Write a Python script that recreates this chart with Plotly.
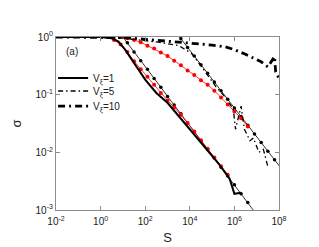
import numpy as np
import plotly.graph_objects as go

# ---- data (log10 values) ----
# V_xi = 1 (thick solid)
v1_logS = [-2.0, -1.0, 0.0, 0.5, 0.8, 1.1, 1.4, 1.7, 2.0, 2.5, 3.0, 3.5, 4.0, 4.5, 5.0, 5.3, 5.62, 5.79, 6.0, 6.3]
v1_logsig = [0.0, 0.0, 0.0, -0.02, -0.08, -0.22, -0.40, -0.58, -0.74, -0.97, -1.14, -1.37, -1.60, -1.83, -2.07, -2.20, -2.37, -2.46, -2.72, -2.70]

# V_xi = 5 (dash-dot)
v5_logS = [-2.0, 0.0, 1.0, 2.0, 2.6, 3.5, 4.07, 4.5, 5.17, 5.6, 5.95, 6.05, 6.3, 6.45, 6.7, 6.85, 7.1, 7.3, 7.5]
v5_logsig = [0.0, 0.0, -0.02, -0.06, -0.09, -0.15, -0.28, -0.50, -0.86, -1.05, -1.25, -1.60, -1.20, -1.60, -1.80, -1.75, -2.00, -1.95, -2.25]

# V_xi = 10 (thick dash-dot)
v10_logS = [-2.0, 0.0, 1.0, 2.0, 3.0, 4.0, 5.0, 5.6, 6.0, 6.5, 6.8, 7.2, 7.5, 7.65, 7.8, 7.85, 8.0]
v10_logsig = [0.0, 0.0, -0.01, -0.04, -0.07, -0.10, -0.14, -0.17, -0.22, -0.30, -0.36, -0.43, -0.52, -0.43, -0.34, -0.60, -0.72]

# red fit curves with markers
red_lo_logS = [0.3, 0.6, 0.9, 1.2, 1.5, 1.8, 2.1, 2.4, 2.7, 3.0, 3.3, 3.6, 3.9, 4.2, 4.5, 4.8, 5.1, 5.4, 5.7]
red_lo_logsig = [0.0, -0.05, -0.13, -0.26, -0.42, -0.56, -0.69, -0.83, -0.97, -1.10, -1.22, -1.35, -1.49, -1.64, -1.79, -1.94, -2.09, -2.24, -2.39]

red_hi_logS = [0.9, 1.2, 1.5, 1.8, 2.1, 2.4, 2.7, 3.0, 3.3, 3.6, 3.9, 4.2, 4.5, 4.8, 5.1, 5.4, 5.7, 6.0, 6.3, 6.6]
red_hi_logsig = [0.0, -0.02, -0.05, -0.09, -0.15, -0.20, -0.27, -0.33, -0.41, -0.49, -0.58, -0.66, -0.75, -0.83, -0.93, -1.05, -1.17, -1.29, -1.41, -1.55]

# thin black power-law lines with dots
blk_lo_logS = [0.9, 1.2, 1.5, 1.8, 2.1, 2.4, 2.7, 3.0, 3.3, 3.6, 3.9, 4.2, 4.5, 4.8, 5.1, 5.4, 5.7, 6.0, 6.3, 6.6, 6.9]
blk_lo_logsig = [0.05, -0.10, -0.26, -0.41, -0.56, -0.72, -0.87, -1.03, -1.18, -1.33, -1.49, -1.64, -1.80, -1.95, -2.10, -2.26, -2.41, -2.56, -2.72, -2.87, -3.03]

blk_hi_logS = [3.3, 3.6, 3.9, 4.2, 4.5, 4.8, 5.1, 5.4, 5.7, 6.0, 6.3, 6.6, 6.9, 7.2, 7.5, 7.8, 8.1]
blk_hi_logsig = [0.12, -0.03, -0.18, -0.33, -0.48, -0.63, -0.78, -0.93, -1.08, -1.23, -1.38, -1.53, -1.68, -1.83, -1.98, -2.13, -2.28]

x_tick_exp = [-2, 0, 2, 4, 6, 8]
y_tick_exp = [-3, -2, -1, 0]

def p10(a):
    return np.power(10.0, np.array(a, dtype=float))

fig = go.Figure()

# thin black lines with dots
for xs, ys in [(blk_lo_logS, blk_lo_logsig), (blk_hi_logS, blk_hi_logsig)]:
    fig.add_trace(go.Scatter(x=p10(xs), y=p10(ys), mode="lines+markers",
                             line=dict(color="black", width=0.8),
                             marker=dict(color="black", size=3.5),
                             showlegend=False, hoverinfo="skip"))
# red fits
for xs, ys in [(red_lo_logS, red_lo_logsig), (red_hi_logS, red_hi_logsig)]:
    fig.add_trace(go.Scatter(x=p10(xs), y=p10(ys), mode="lines+markers",
                             line=dict(color="red", width=0.8),
                             marker=dict(color="red", size=4),
                             showlegend=False, hoverinfo="skip"))

fig.add_trace(go.Scatter(x=p10(v1_logS), y=p10(v1_logsig), mode="lines",
                         line=dict(color="black", width=2),
                         name="V<sub>ξ</sub>=1", legend="legend"))
fig.add_trace(go.Scatter(x=p10(v5_logS), y=p10(v5_logsig), mode="lines",
                         line=dict(color="black", width=1.3, dash="5px,3px,1.5px,3px"),
                         name="V<sub>ξ</sub>=5", legend="legend2"))
fig.add_trace(go.Scatter(x=p10(v10_logS), y=p10(v10_logsig), mode="lines",
                         line=dict(color="black", width=2.8, dash="7px,4px,2px,4px"),
                         name="V<sub>ξ</sub>=10", legend="legend3"))

axis_common = dict(type="log", showgrid=False, zeroline=False, showline=True,
                   linecolor="#8c8c8c", linewidth=1.2, mirror="ticks",
                   ticks="inside", ticklen=4, tickcolor="#8c8c8c",
                   automargin=False,
                   tickfont=dict(size=10, color="#222"))

leg_common = dict(x=-0.013, xanchor="left", yanchor="middle",
                  bgcolor="rgba(0,0,0,0)", font=dict(size=10), itemwidth=30)

fig.update_layout(
    width=319, height=239,
    margin=dict(l=48, r=48, t=29, b=37, autoexpand=False),
    paper_bgcolor="white", plot_bgcolor="white",
    font=dict(family="Liberation Sans, Arial, sans-serif", color="#222"),
    xaxis=dict(range=[-2, 8], tickvals=p10(x_tick_exp),
               ticktext=[f"10<sup>{e}</sup>" for e in x_tick_exp],
               ticklabelstandoff=2,
               title=dict(text="S", font=dict(size=13), standoff=6), **axis_common),
    yaxis=dict(range=[-3, 0], tickvals=p10(y_tick_exp),
               ticktext=[f"10<sup>{e}</sup>" for e in y_tick_exp],
               title=dict(text="σ", font=dict(size=13), standoff=10), **axis_common),
    legend=dict(y=0.763, **leg_common),
    legend2=dict(y=0.688, **leg_common),
    legend3=dict(y=0.601, **leg_common),
    annotations=[dict(text="(a)", x=-1.28, y=-0.26, xref="x", yref="y",
                      showarrow=False, font=dict(size=10))],
)

fig.write_html("out.html")
